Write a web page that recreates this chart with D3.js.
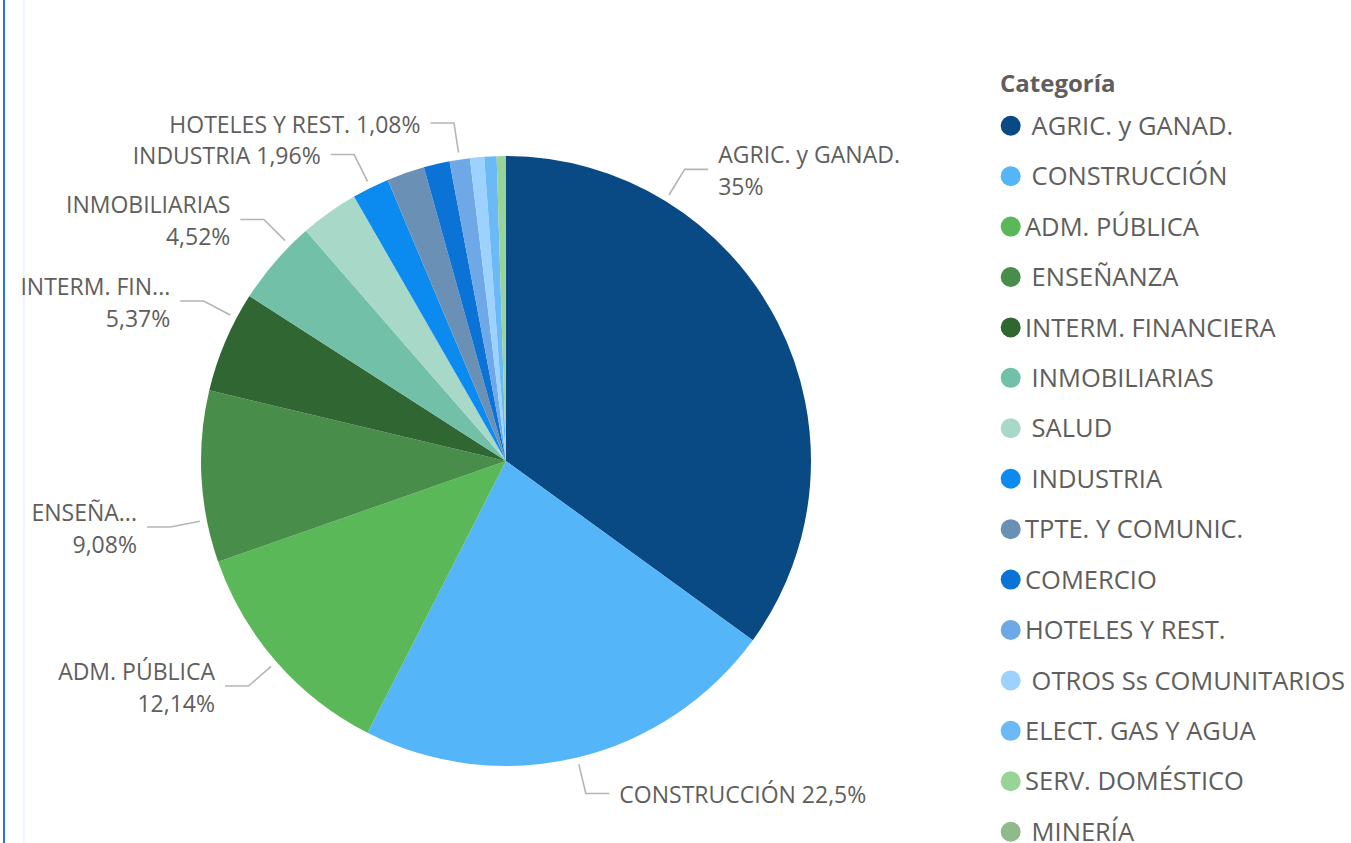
<!DOCTYPE html>
<html>
<head>
<meta charset="utf-8">
<script src="https://cdn.jsdelivr.net/npm/d3@7"></script>
<style>
  body { margin: 0; background: #fff; }
  text { font-family: "Segoe UI", "Open Sans", sans-serif; fill: #605e5c; }
</style>
</head>
<body>
<div class="container"></div>
<script>
// leading spaces are in the source names (legend shows them)
const categories = [" AGRIC. y GANAD.", " CONSTRUCCIÓN", "ADM. PÚBLICA", " ENSEÑANZA", "INTERM. FINANCIERA",
  " INMOBILIARIAS", " SALUD", " INDUSTRIA", "TPTE. Y COMUNIC.", "COMERCIO", "HOTELES Y REST.",
  " OTROS Ss COMUNITARIOS", "ELECT. GAS Y AGUA", "SERV. DOMÉSTICO", " MINERÍA"]
const values = [35, 22.5, 12.14, 9.08, 5.37, 4.52, 3.09, 1.96, 2.0, 1.37, 1.08, 0.75, 0.65, 0.45, 0.04]
const colors = ["#0a4a84", "#55b5f9", "#5ab858", "#488e4a", "#306632", "#71c0a7", "#a8d8c8", "#0b8af0",
  "#6b90b5", "#0b72d6", "#6ea8e6", "#9cd2fd", "#6cb9f7", "#98d398", "#8fba8c"]

// which slices get a data label, how the label is cut, and where on the slice the leader sits
const labelNames = [" AGRIC. y GANAD.", " CONSTRUCCIÓN", "ADM. PÚBLICA", " ENSEÑANZA", "INTERM. FINANCIERA", " INMOBILIARIAS", " INDUSTRIA", "HOTELES Y REST."]
const labelTexts = ["AGRIC. y GANAD.", "CONSTRUCCIÓN", "ADM. PÚBLICA", "ENSEÑA...", "INTERM. FIN...", "INMOBILIARIAS", "INDUSTRIA", "HOTELES Y REST."]
const labelOneLine = [false, true, false, false, false, false, true, true]
const labelFrac = [0.25, 0.5, 0.5, 0.25, 0.75, 0.75, 0.5, 0.5]

const width = 1351
const height = 843
const cx = 506
const cy = 461
const radius = 305

const data = categories.map((c, i) => ({name: c, value: values[i], color: colors[i]}))
const total = d3.sum(values)
const fmt = v => d3.format(".2~f")(v).replace(".", ",") + "%"

const svg = d3.select(".container").append("svg")
  .attr("width", width)
  .attr("height", height)

// report frame
svg.append("rect").attr("x", 3).attr("y", 0).attr("width", 2).attr("height", height).attr("fill", "#1f78d6")
svg.append("rect").attr("x", 23).attr("y", 0).attr("width", 2).attr("height", height).attr("fill", "#eef5fc")

const pie = d3.pie().sort(null).value(d => d.value)
const arcs = pie(data)
const arc = d3.arc().innerRadius(0).outerRadius(radius)

const g = svg.append("g").attr("transform", `translate(${cx},${cy})`)

g.selectAll("path.slice")
  .data(arcs)
  .enter()
  .append("path")
  .attr("class", "slice")
  .attr("d", arc)
  .attr("fill", d => d.data.color)

// data labels with leader lines
const rStart = radius + 7
const rElbow = radius + 37
const hLen = 23.5
const gap = 10

labelNames.forEach((name, i) => {
  const a = arcs.find(d => d.data.name === name)
  const ang = a.startAngle + (a.endAngle - a.startAngle) * labelFrac[i]
  const right = ang < Math.PI
  const p = r => [Math.sin(ang) * r, -Math.cos(ang) * r]
  const p1 = p(rStart)
  const p2 = p(rElbow)
  const p3 = [p2[0] + (right ? hLen : -hLen), p2[1]]

  g.append("path")
    .attr("d", d3.line()([p1, p2, p3]))
    .attr("fill", "none")
    .attr("stroke", "#b5b5b5")
    .attr("stroke-width", 1.6)

  const tx = p3[0] + (right ? gap : -gap)
  const pct = fmt(a.data.value / total * 100)
  const t = g.append("text")
    .attr("text-anchor", right ? "start" : "end")
    .style("font-size", "23px")
  if (labelOneLine[i]) {
    t.attr("x", tx).attr("y", p3[1]).attr("dy", "0.42em").text(labelTexts[i] + " " + pct)
  } else {
    t.append("tspan").attr("x", tx).attr("y", p3[1] - 6).text(labelTexts[i])
    t.append("tspan").attr("x", tx).attr("y", p3[1] + 25.7).text(pct)
  }
})

// legend
const legendY = d3.scalePoint().domain(categories).range([125.7, 831.7])

svg.append("text")
  .attr("x", 1000)
  .attr("y", 91.5)
  .style("font-size", "24px")
  .style("font-weight", "bold")
  .text("Categoría")

const items = svg.selectAll("g.legend")
  .data(data)
  .enter()
  .append("g")
  .attr("class", "legend")
  .attr("transform", d => `translate(0,${legendY(d.name)})`)

items.append("circle")
  .attr("cx", 1010.7)
  .attr("cy", 0)
  .attr("r", 10)
  .attr("fill", d => d.color)

items.append("text")
  .attr("x", 1025)
  .attr("y", 0)
  .attr("dy", "0.36em")
  .style("font-size", "25.5px")
  .style("white-space", "pre")
  .text(d => d.name)
</script>
</body>
</html>
